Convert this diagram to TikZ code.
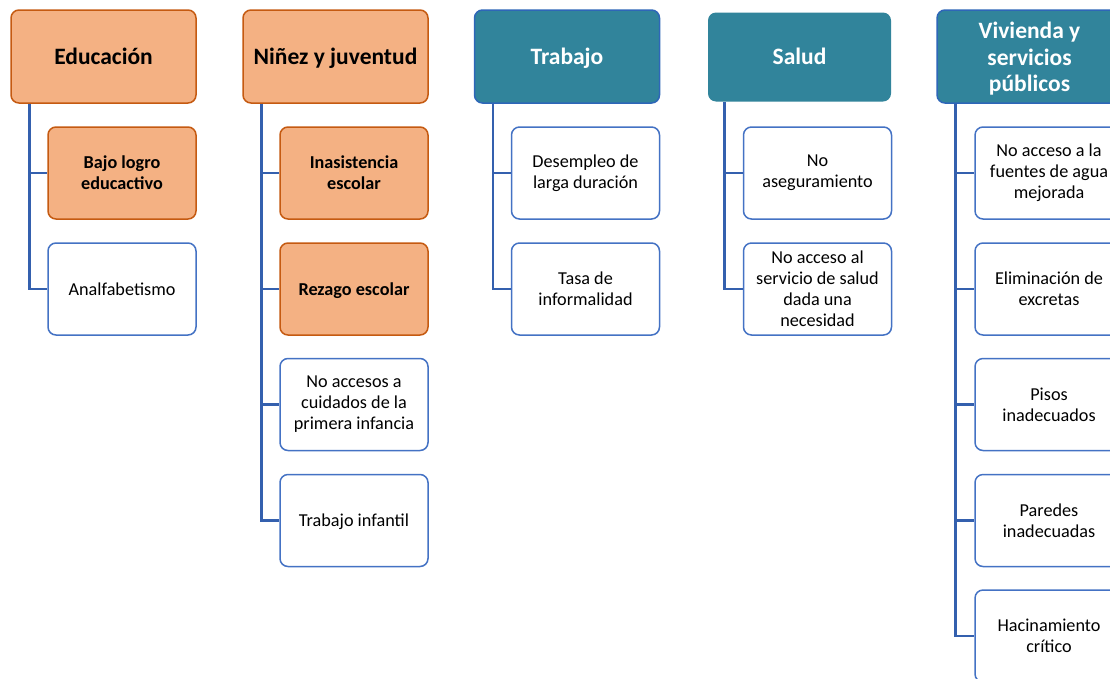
\documentclass[tikz,border=0pt]{standalone}
\usepackage{fontspec}
\setmainfont{Carlito}
\definecolor{orfill}{HTML}{F4B183}
\definecolor{ordraw}{HTML}{C55A11}
\definecolor{teal}{HTML}{31849B}
\definecolor{bluedraw}{HTML}{4472C4}
\definecolor{hdrblue}{HTML}{2E66B8}
\definecolor{conn}{HTML}{3460AE}
\tikzset{
  hdr/.style={rounded corners=8pt, minimum width=185pt, minimum height=93pt, align=center,
    font=\fontsize{23.5}{26.8}\selectfont\bfseries, inner sep=0pt, line width=1.5pt},
  oneh/.style={text height=20pt, text depth=5pt},
  onek/.style={text height=16pt, text depth=4pt},
  hdrorange/.style={hdr, fill=orfill, draw=ordraw},
  hdrteal/.style={hdr, fill=teal, draw=hdrblue, text=white},
  kid/.style={rounded corners=8pt, minimum width=148pt, minimum height=92pt, align=center,
    font=\fontsize{18.2}{21}\selectfont, inner sep=0pt, line width=1.5pt, fill=white, draw=bluedraw},
  kidorange/.style={kid, fill=orfill, draw=ordraw, font=\fontsize{18.2}{21}\selectfont\bfseries},
  link/.style={draw=conn, line width=2.5pt}
}
\begin{document}
\begin{tikzpicture}[x=1pt,y=-1pt]
\useasboundingbox (0,0) rectangle (1110,678);
\clip (0,0) rectangle (1110,678);
\fill[white] (0,0) rectangle (1110,678);
% Educacion
\node[hdrorange, oneh] (edu) at (103.5,56.5) {Educación};
\node[kidorange] (edu1) at (122,173) {Bajo logro\\educactivo};
\node[kid, onek] (edu2) at (122,289) {Analfabetismo};
\coordinate (e0) at ([xshift=19pt]edu.south west);
\draw[link] (e0) |- (edu1.west);
\draw[link] (e0) |- (edu2.west);
% Ninez
\node[hdrorange, oneh] (nin) at (335.5,56.5) {Niñez y juventud};
\node[kidorange] (nin1) at (354,173) {Inasistencia\\escolar};
\node[kidorange, onek] (nin2) at (354,289) {Rezago escolar};
\node[kid] (nin3) at (354,404.5) {No accesos a\\cuidados de la\\primera infancia};
\node[kid, onek] (nin4) at (354,520.5) {Trabajo infantil};
\coordinate (n0) at ([xshift=19pt]nin.south west);
\foreach \k in {nin1,nin2,nin3,nin4} \draw[link] (n0) |- (\k.west);
% Trabajo
\node[hdrteal, oneh] (tra) at (567,56.5) {Trabajo};
\node[kid] (tra1) at (585.5,173) {Desempleo de\\larga duración};
\node[kid] (tra2) at (585.5,289) {Tasa de\\informalidad};
\coordinate (t0) at ([xshift=19pt]tra.south west);
\foreach \k in {tra1,tra2} \draw[link] (t0) |- (\k.west);
% Salud
\node[hdrteal, oneh, draw=none, minimum width=183pt, minimum height=89pt] (sal) at (799.5,57) {Salud};
\node[kid] (sal1) at (817.5,173) {No\\aseguramiento};
\node[kid] (sal2) at (817.5,289) {No acceso al\\servicio de salud\\dada una\\necesidad};
\coordinate (s0) at ([xshift=17pt]sal.south west);
\foreach \k in {sal1,sal2} \draw[link] (s0) |- (\k.west);
% Vivienda
\node[hdrteal] (viv) at (1029.5,56.5) {\rule{0pt}{21pt}Vivienda y\\servicios\\públicos};
\node[kid] (viv1) at (1049,173) {No acceso a la\\fuentes de agua\\mejorada};
\node[kid] (viv2) at (1049,289) {Eliminación de\\excretas};
\node[kid] (viv3) at (1049,404.5) {Pisos\\inadecuados};
\node[kid] (viv4) at (1049,520.5) {Paredes\\inadecuadas};
\node[kid] (viv5) at (1049,636) {Hacinamiento\\crítico};
\coordinate (v0) at ([xshift=19pt]viv.south west);
\foreach \k in {viv1,viv2,viv3,viv4,viv5} \draw[link] (v0) |- (\k.west);
\end{tikzpicture}
\end{document}
